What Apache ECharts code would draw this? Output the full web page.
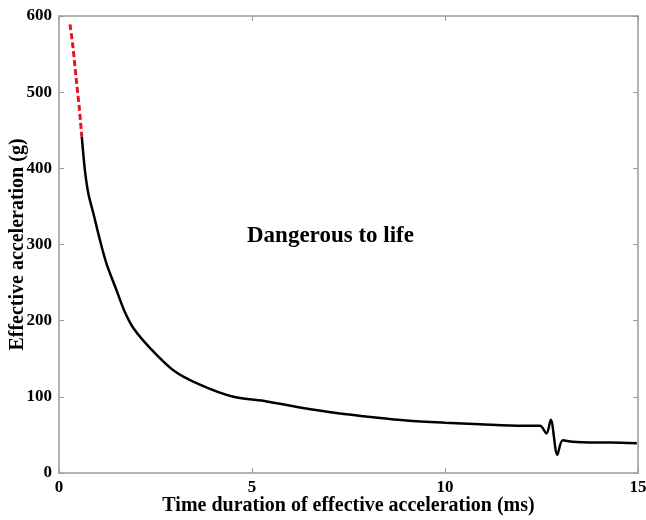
<!DOCTYPE html>
<html><head><meta charset="utf-8">
<script src="https://cdn.jsdelivr.net/npm/echarts@6/dist/echarts.min.js"></script>
<style>html,body{margin:0;padding:0;background:#fff}#c{width:646px;height:520px}</style>
</head><body><div id="c"></div>
<script>
const xTicks = [0, 5, 10, 15];
const yTicks = [0, 100, 200, 300, 400, 500, 600];
const redTime = [0.285, 0.36, 0.44, 0.53, 0.59];
const redAcc = [589, 560, 520, 477, 442];
const blackTime = [0.59, 0.67, 0.76, 0.89, 1.06, 1.23, 1.49, 1.70, 1.93, 2.36, 2.96, 3.65, 4.52, 5.38, 6.24, 7.28, 8.0, 9.0, 10.0, 10.9, 12.0, 12.46, 12.63, 12.74, 12.91, 13.05, 13.3, 13.76, 14.3, 14.97];
const blackAcc = [442, 398, 367, 341, 306, 275, 240, 212, 190, 164, 135, 116, 100, 94, 86, 78, 74, 69, 66, 64, 62, 62, 52, 70, 24, 43, 41, 40, 40, 39];
const annotation = 'Dangerous to life';
const xName = 'Time duration of effective acceleration (ms)';
const yName = 'Effective acceleration (g)';

const serif = '"Liberation Serif", "DejaVu Serif", serif';
const axisCol = '#9a9a9a';
const chart = echarts.init(document.getElementById('c'));
const mkx = (show) => ({
  type: 'value', min: xTicks[0], max: xTicks[xTicks.length-1], interval: 5,
  axisLine: {show: true, onZero: false, lineStyle: {color: axisCol, width: 1.5}},
  axisTick: {show: true, inside: true, length: 5, lineStyle: {color: axisCol}},
  axisLabel: {show: show, color: '#000', fontFamily: serif, fontWeight: 'bold', fontSize: 17, margin: 6},
  splitLine: {show: false}
});
const mky = (show) => ({
  type: 'value', min: yTicks[0], max: yTicks[yTicks.length-1], interval: 100,
  axisLine: {show: true, onZero: false, lineStyle: {color: axisCol, width: 1.5}},
  axisTick: {show: true, inside: true, length: 5, lineStyle: {color: axisCol}},
  axisLabel: {show: show, color: '#000', fontFamily: serif, fontWeight: 'bold', fontSize: 17, margin: 7},
  splitLine: {show: false}
});
const xa = mkx(true);
xa.name = xName; xa.nameLocation = 'middle'; xa.nameGap = 23; xa.nameMoveOverlap = false;
xa.nameTextStyle = {fontFamily: serif, fontWeight: 'bold', fontSize: 20, color: '#000'};
const xb = mkx(false); xb.position = 'top';
const ya = mky(true);
ya.name = yName; ya.nameLocation = 'middle'; ya.nameGap = 31; ya.nameMoveOverlap = false;
ya.nameTextStyle = {fontFamily: serif, fontWeight: 'bold', fontSize: 20, color: '#000'};
const yb = mky(false); yb.position = 'right';

chart.setOption({
  animation: false,
  grid: {left: 59, right: 8, top: 16, bottom: 47, containLabel: false, outerBoundsMode: 'none'},
  xAxis: [xa, xb],
  yAxis: [ya, yb],
  graphic: [{type: 'text', left: 247, top: 225, style: {text: annotation, font: 'bold 23px ' + serif, fill: '#000'}}],
  series: [
    {type: 'line', xAxisIndex: 0, yAxisIndex: 0, data: blackTime.map((t, i) => [t, blackAcc[i]]), showSymbol: false, smooth: 0.3, lineStyle: {color: '#000', width: 2.5}},
    {type: 'line', xAxisIndex: 0, yAxisIndex: 0, data: redTime.map((t, i) => [t, redAcc[i]]), showSymbol: false, smooth: 0.3, lineStyle: {color: '#e8141c', width: 3, type: [6, 3]}}
  ]
});
</script></body></html>
